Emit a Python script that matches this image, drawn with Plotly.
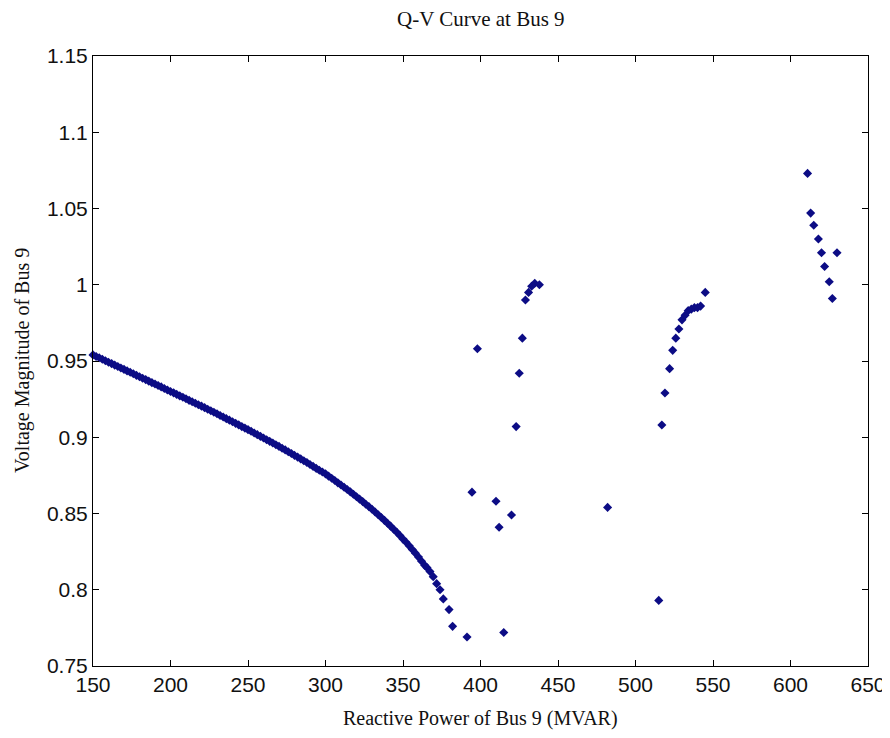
import plotly.graph_objects as go

# Main continuous branch
q_main = [150, 152, 154, 156, 158, 160, 162, 164, 166, 168, 170, 172, 174, 176, 178, 180, 182,
          184, 186, 188, 190, 192, 194, 196, 198, 200, 202, 204, 206, 208, 210, 212, 214, 216,
          218, 220, 222, 224, 226, 228, 230, 232, 234, 236, 238, 240, 242, 244, 246, 248, 250,
          252, 254, 256, 258, 260, 262, 264, 266, 268, 270, 272, 274, 276, 278, 280, 282, 284,
          286, 288, 290, 292, 294, 296, 298, 300, 302, 304, 306, 308, 310, 312, 314, 316, 318,
          320, 322, 324, 326, 328, 330, 332, 334, 336, 338, 340, 342, 344, 346, 348, 350, 352,
          354, 356, 358, 360, 362, 364, 365.5, 367.4, 369.5, 371.7, 373.9, 376, 379.7, 382, 391.3]
v_main = [0.9540, 0.9530, 0.9521, 0.9511, 0.9502, 0.9492, 0.9483, 0.9473, 0.9464, 0.9454, 0.9445,
          0.9435, 0.9426, 0.9416, 0.9406, 0.9397, 0.9387, 0.9378, 0.9368, 0.9358, 0.9349, 0.9339,
          0.9330, 0.9320, 0.9310, 0.9300, 0.9291, 0.9281, 0.9271, 0.9262, 0.9252, 0.9242, 0.9233,
          0.9223, 0.9213, 0.9204, 0.9194, 0.9184, 0.9174, 0.9164, 0.9154, 0.9143, 0.9133, 0.9122,
          0.9112, 0.9102, 0.9091, 0.9081, 0.9070, 0.9060, 0.9050, 0.9039, 0.9028, 0.9017, 0.9006,
          0.8995, 0.8984, 0.8973, 0.8962, 0.8951, 0.8940, 0.8928, 0.8917, 0.8905, 0.8893, 0.8881,
          0.8870, 0.8858, 0.8846, 0.8834, 0.8821, 0.8809, 0.8796, 0.8784, 0.8772, 0.8760, 0.8745,
          0.8731, 0.8716, 0.8701, 0.8687, 0.8672, 0.8657, 0.8642, 0.8626, 0.8610, 0.8594, 0.8578,
          0.8561, 0.8545, 0.8528, 0.8510, 0.8492, 0.8474, 0.8455, 0.8436, 0.8417, 0.8397, 0.8377,
          0.8355, 0.8332, 0.8311, 0.8288, 0.8264, 0.8240, 0.8214, 0.8187, 0.8160, 0.8145, 0.8120,
          0.8086, 0.8040, 0.8000, 0.7940, 0.7870, 0.7760, 0.7690]

# Scattered points
q_scatter = [394.5, 398, 410, 412, 415, 420, 423, 425, 427, 429, 431, 433, 435, 438,
             482, 515, 517, 519, 522, 524, 526, 528, 530, 532, 534, 536, 538, 540, 542, 545,
             611, 613, 615, 618, 620, 630, 622, 625, 627]
v_scatter = [0.864, 0.958, 0.858, 0.841, 0.772, 0.849, 0.907, 0.942, 0.965, 0.990, 0.995, 0.999,
             1.001, 1.000, 0.854, 0.793, 0.908, 0.929, 0.945, 0.957, 0.965, 0.971, 0.977, 0.980,
             0.983, 0.984, 0.985, 0.985, 0.986, 0.995, 1.073, 1.047, 1.039, 1.030, 1.021, 1.021,
             1.012, 1.002, 0.991]

x_ticks = [150, 200, 250, 300, 350, 400, 450, 500, 550, 600, 650]
y_ticks = [0.75, 0.8, 0.85, 0.9, 0.95, 1.0, 1.05, 1.1, 1.15]
y_tick_text = ["0.75", "0.8", "0.85", "0.9", "0.95", "1", "1.05", "1.1", "1.15"]

q_all = q_main + q_scatter
v_all = v_main + v_scatter

fig = go.Figure()
fig.add_trace(go.Scatter(
    x=q_all, y=v_all, mode="markers",
    marker=dict(symbol="diamond", size=7, color="#0c0c85", line=dict(width=0)),
    showlegend=False, cliponaxis=False))

serif = "Liberation Serif, Times New Roman, serif"
axis_common = dict(showgrid=False, zeroline=False, showline=True, linecolor="black",
                   linewidth=1, mirror="ticks", ticks="inside", ticklen=6,
                   tickcolor="black", tickwidth=1, automargin=False,
                   tickfont=dict(family="Liberation Sans, Arial", size=21, color="#111111"))

# The page body adds an 8 px offset, so the figure is sized to fit the window.
fig.update_layout(
    width=882, height=730,
    margin=dict(l=85, r=22, t=48, b=72, autoexpand=False),
    paper_bgcolor="white", plot_bgcolor="white",
    xaxis=dict(range=[150, 650], tickvals=x_ticks, **axis_common),
    yaxis=dict(range=[0.75, 1.15], tickvals=y_ticks, ticktext=y_tick_text, **axis_common),
    annotations=[
        dict(text="Q-V Curve at Bus 9", xref="paper", yref="paper", x=0.5, y=1,
             yshift=37, xanchor="center", yanchor="middle", showarrow=False,
             font=dict(family=serif, size=21, color="#111111")),
        dict(text="Reactive Power of Bus 9 (MVAR)", xref="paper", yref="paper", x=0.5, y=0,
             yshift=-52, xanchor="center", yanchor="middle", showarrow=False,
             font=dict(family=serif, size=20, color="#111111")),
        dict(text="Voltage Magnitude of Bus 9", xref="paper", yref="paper", x=0, y=0.5,
             xshift=-71, xanchor="center", yanchor="middle", showarrow=False, textangle=-90,
             font=dict(family=serif, size=20, color="#111111")),
    ],
)

fig.write_html("out.html")
